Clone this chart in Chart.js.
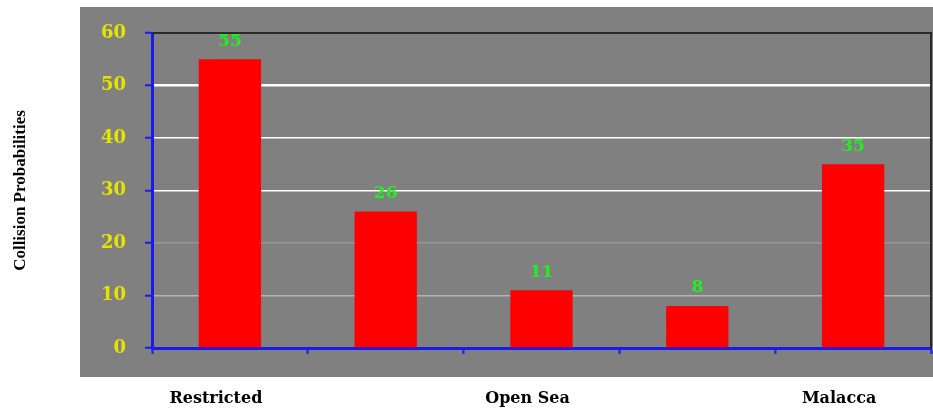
<!DOCTYPE html>
<html>
<head>
<meta charset="utf-8">
<script src="https://cdn.jsdelivr.net/npm/chart.js@4.4.0/dist/chart.umd.min.js"></script>
<style>
  html, body { margin: 0; padding: 0; background: #fff; }
  #wrap { width: 933px; height: 409px; }
</style>
</head>
<body>
<div id="wrap"><canvas id="barChart" width="933" height="409"></canvas></div>
<script>
// chart data
const categories = ['Restricted', '', 'Open Sea', '', 'Malacca'];
const probabilities = [55, 26, 11, 8, 35];
const yTicks = [0, 10, 20, 30, 40, 50, 60];
const yTitle = 'Collision Probabilities';

// grey panel behind everything + dark top/right frame
const panelPlugin = {
  id: 'panel',
  beforeDraw(chart) {
    const c = chart.ctx;
    c.save();
    c.fillStyle = '#808080';
    c.fillRect(80, 7, chart.width - 80, 370);
    c.restore();
  },
  afterDraw(chart) {
    const a = chart.chartArea;
    const c = chart.ctx;
    c.save();
    c.strokeStyle = '#2a2a2a';
    c.lineWidth = 2;
    c.beginPath();
    c.moveTo(a.left, a.top);
    c.lineTo(a.right, a.top);
    c.lineTo(a.right, a.bottom);
    c.stroke();
    c.restore();
  }
};

// green value labels above bars
const valueLabels = {
  id: 'valueLabels',
  afterDatasetsDraw(chart) {
    const c = chart.ctx;
    const meta = chart.getDatasetMeta(0);
    c.save();
    c.fillStyle = '#22ee22';
    c.font = 'bold 17px "DejaVu Serif", serif';
    c.textAlign = 'center';
    c.textBaseline = 'middle';
    meta.data.forEach((bar, i) => {
      c.fillText(probabilities[i], bar.x, bar.y - 18);
    });
    c.restore();
  }
};

function gridColor(ctx) {
  const v = ctx.tick ? ctx.tick.value : 0;
  if (v === 60) return '#2a2a2a';
  if (v === 50 || v === 40 || v === 30) return '#ffffff';
  if (v === 20) return '#969696';
  if (v === 10) return '#b4b4b4';
  return 'rgba(0,0,0,0)';
}

new Chart(document.getElementById('barChart').getContext('2d'), {
  type: 'bar',
  data: {
    labels: categories,
    datasets: [{
      data: probabilities,
      backgroundColor: '#ff0000',
      borderWidth: 0,
      barPercentage: 1,
      categoryPercentage: 0.4
    }]
  },
  options: {
    responsive: false,
    animation: false,
    layout: { padding: { top: 33, right: 2, left: 4, bottom: 0 } },
    plugins: {
      legend: { display: false },
      tooltip: { enabled: false }
    },
    scales: {
      x: {
        grid: {
          drawOnChartArea: false,
          drawTicks: true,
          tickLength: 6,
          tickColor: '#1a1aee',
          tickWidth: 2
        },
        border: { color: '#1a1aee', width: 3 },
        ticks: {
          autoSkip: false,
          maxRotation: 0,
          color: '#000000',
          padding: 35,
          labelOffset: -14,
          font: { family: '"DejaVu Serif", serif', weight: 'bold', size: 16 }
        },
        afterFit(scale) { scale.height = 61; }
      },
      y: {
        min: 0,
        max: 60,
        afterBuildTicks(scale) { scale.ticks = yTicks.map(v => ({ value: v })); },
        grid: {
          color: gridColor,
          lineWidth: ctx => (ctx.tick && ctx.tick.value === 50 ? 2.5 : 1.5),
          tickLength: 7,
          tickColor: '#1a1aee',
          tickWidth: 2
        },
        border: { color: '#1a1aee', width: 3 },
        ticks: {
          color: '#e4e400',
          padding: 19,
          font: { family: '"DejaVu Serif", serif', weight: 'bold', size: 18 }
        },
        title: {
          display: true,
          text: yTitle,
          color: '#000000',
          padding: { top: 6, bottom: 0 },
          font: { family: '"Liberation Serif", serif', weight: 'bold', size: 17 }
        },
        afterFit(scale) { scale.width = 148; }
      }
    }
  },
  plugins: [panelPlugin, valueLabels]
});
</script>
</body>
</html>
